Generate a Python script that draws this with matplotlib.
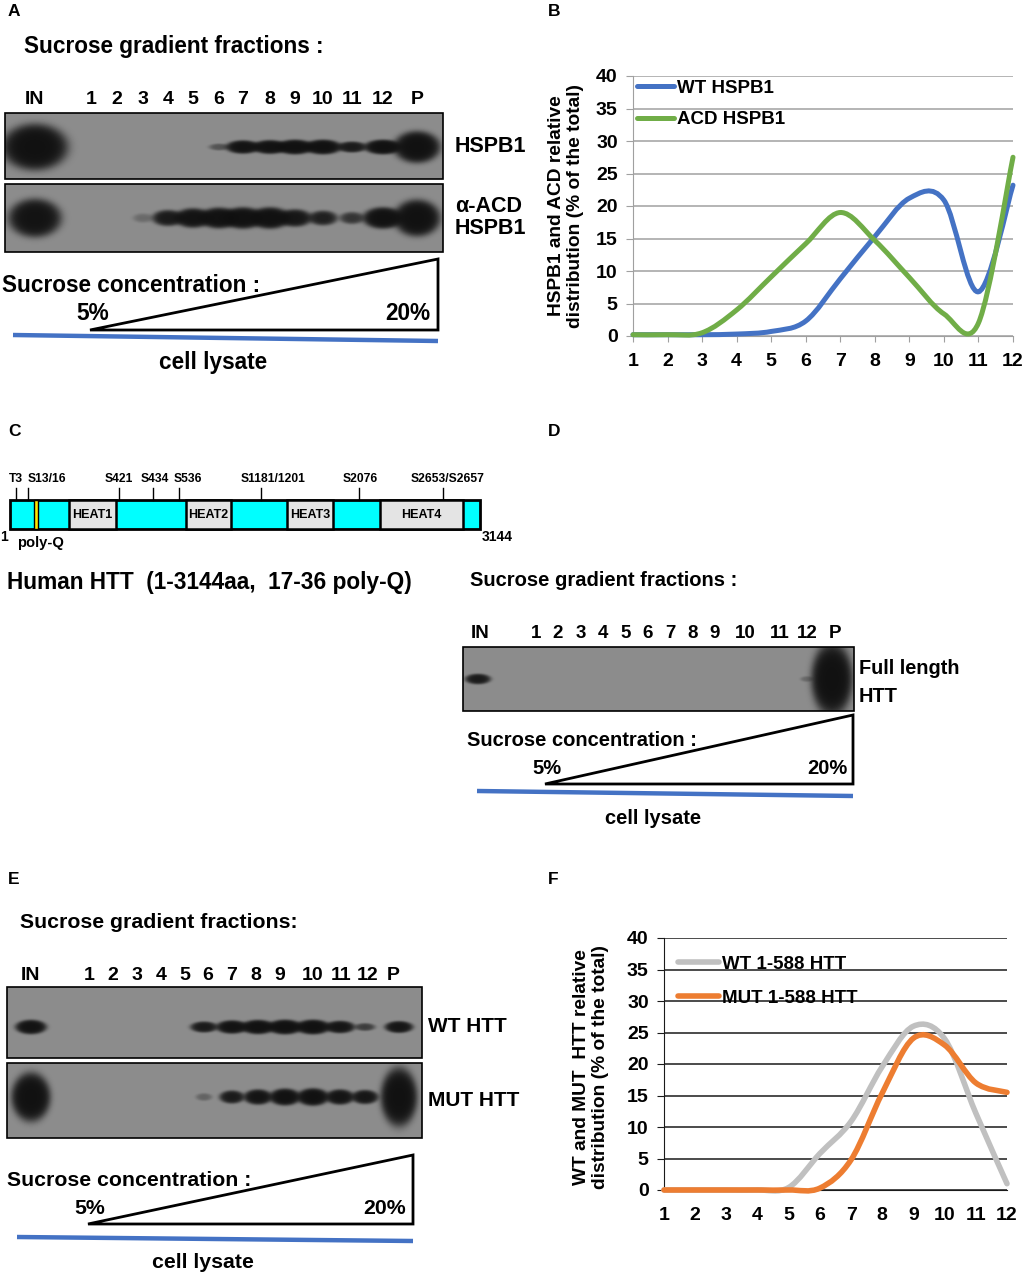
import numpy as np
import matplotlib
matplotlib.use('Agg')
import matplotlib.pyplot as plt
from matplotlib.path import Path
from matplotlib.patches import PathPatch, Rectangle, Polygon
from matplotlib.lines import Line2D

plt.rcParams['font.family'] = ['Liberation Sans', 'DejaVu Sans']
plt.rcParams['font.weight'] = 'bold'

W, H = 1031, 1276

# ---- data ----
lanes = ['IN', '1', '2', '3', '4', '5', '6', '7', '8', '9', '10', '11', '12', 'P']
fractions = list(range(1, 13))

# panel B: relative distribution (% of total)
wt_hspb1 = [0.2, 0.2, 0.2, 0.3, 0.7, 2.3, 8.8, 15.3, 21.2, 20.9, 6.8, 23.2]
acd_hspb1 = [0.2, 0.2, 0.5, 4.0, 9.1, 14.2, 19.0, 14.7, 9.0, 3.4, 2.0, 27.5]

# panel F
wt_htt = [0, 0, 0, 0, 0.4, 5.8, 10.9, 19.6, 26.0, 24.0, 12.2, 1.0]
mut_htt = [0, 0, 0, 0, 0, 0.3, 4.8, 15.4, 24.1, 23.0, 17.0, 15.5]

# blot band intensities (IN, 1..12, P), 0 = no band
blot_hspb1 = [1.0, 0, 0, 0, 0, 0, 0.15, 0.85, 0.9, 1.0, 1.0, 0.6, 1.0, 1.0]
blot_acd = [0.85, 0, 0, 0.08, 0.6, 0.85, 0.95, 1.0, 1.0, 0.7, 0.5, 0.3, 1.0, 1.0]
blot_full_htt = [0.6, 0, 0, 0, 0, 0, 0, 0, 0, 0, 0, 0, 0.08, 1.0]
blot_wt_htt = [0.85, 0, 0, 0, 0, 0, 0.6, 0.85, 0.95, 1.0, 1.0, 0.75, 0.25, 0.75]
blot_mut_htt = [1.0, 0, 0, 0, 0, 0, 0.1, 0.6, 0.8, 0.95, 1.0, 0.8, 0.7, 1.0]

# HTT domain map
heat_domains = ['HEAT1', 'HEAT2', 'HEAT3', 'HEAT4']
phospho_sites = ['T3', 'S13/16', 'S421', 'S434', 'S536', 'S1181/1201', 'S2076', 'S2653/S2657']


fig = plt.figure(figsize=(W / 100, H / 100), dpi=100)
ax = fig.add_axes([0, 0, 1, 1])
ax.set_xlim(0, W)
ax.set_ylim(H, 0)
ax.axis('off')


def txt(x, y, s, fs, ha='left', **kw):
    ax.text(x, y, s, fontsize=fs, ha=ha, va='center', fontweight='bold', **kw)


def blot(box, lane_x, band_y, vals, lw_, lh_, in_size, p_size, bg=0.55):
    x0, x1, y0, y1 = box
    X, Y = np.meshgrid(np.arange(x0, x1) + 0.5, np.arange(y0, y1) + 0.5)
    dens = np.zeros_like(X)
    for i, (lx, v) in enumerate(zip(lane_x, vals)):
        if v <= 0:
            continue
        if i == 0:
            wx, wy = in_size
        elif i == len(vals) - 1:
            wx, wy = p_size
        else:
            wx, wy = lw_ * (0.6 + 0.5 * v), lh_ * (0.5 + 0.6 * v)
        r2 = ((X - lx) / wx) ** 2 + ((Y - band_y) / wy) ** 2
        dens += v * np.exp(-r2 ** 1.8)
    dark = 1 - np.exp(-4.0 * dens)
    img = bg - (bg - 0.06) * dark
    ax.imshow(img, cmap='gray', vmin=0, vmax=1, extent=(x0, x1, y1, y0),
              interpolation='bilinear', zorder=1)
    ax.add_patch(Rectangle((x0, y0), x1 - x0, y1 - y0, fill=False, ec='black', lw=1.2, zorder=2))


def gradient(tip, xr, ytop, ybot, conc_xy, p5, p20, blue, lys, fs):
    ax.add_patch(Polygon([tip, (xr, ytop), (xr, ybot)], closed=True, fc='white', ec='black', lw=2, zorder=3))
    txt(conc_xy[0], conc_xy[1], 'Sucrose concentration :', fs, zorder=4)
    txt(p5[0], p5[1], '5%', fs, ha='center', zorder=4)
    txt(p20[0], p20[1], '20%', fs, ha='center', zorder=4)
    ax.plot(blue[0], blue[1], color='#4472C4', lw=3.2, solid_capstyle='butt')
    txt(lys[0], lys[1], 'cell lysate', fs, ha='center')


# ---- panel letters ----
for s, (x, y) in zip('ABCDEF', [(8, 12), (548, 12), (8, 432), (548, 432), (8, 880), (548, 880)]):
    txt(x, y, s, 12.5)

# ---- panel A ----
txt(24, 47, 'Sucrose gradient fractions :', 16.3)
lx_a = [35, 91, 117, 143, 168, 193, 219, 243, 270, 295, 323, 352, 383, 417]
for x, s in zip(lx_a, lanes):
    txt(x, 100, s, 14, ha='center')
blot((5, 443, 113, 179), lx_a, 147, blot_hspb1, 14, 5.5, (27, 19), (19, 13))
blot((5, 443, 184, 252), lx_a, 218, blot_acd, 15, 8, (22, 16), (19, 15))
txt(455, 147, 'HSPB1', 15.5)
txt(455, 206, 'α-ACD', 15.5)
txt(455, 229, 'HSPB1', 15.5)
gradient((90, 330), 438, 259, 330, (2, 285), (93, 313), (408, 313),
         ([13, 438], [335, 341]), (213, 362), 16.3)

# ---- panel C ----
bar_x0, bar_x1, bar_y0, bar_y1 = 10, 480, 500, 529
ax.add_patch(Rectangle((bar_x0, bar_y0), bar_x1 - bar_x0, bar_y1 - bar_y0, fc='#00FFFF', ec='black', lw=2, zorder=2))
ax.add_patch(Rectangle((34, bar_y0), 4, bar_y1 - bar_y0, fc='#FFE800', ec='black', lw=1, zorder=3))
for name, (a, b) in zip(heat_domains, [(69, 116), (186, 231), (287, 333), (380, 463)]):
    ax.add_patch(Rectangle((a, bar_y0), b - a, bar_y1 - bar_y0, fc='#E4E4E4', ec='black', lw=1.8, zorder=3))
    txt((a + b) / 2, 515, name, 9, ha='center', zorder=4)
tick_x = [16, 28, 119, 153, 179, 261, 359, 443]
lab_x = [16, 47, 119, 155, 188, 273, 360, 448]
for tx, lx, s in zip(tick_x, lab_x, phospho_sites):
    ax.plot([tx, tx], [488, bar_y0], color='black', lw=1)
    txt(lx, 479, s, 8.7, ha='center')
txt(0, 537, '1', 10)
txt(482, 537, '3144', 10)
txt(17, 543, 'poly-Q', 10.6)
txt(7, 582, 'Human HTT  (1-3144aa,  17-36 poly-Q)', 16.3)

# ---- panel D ----
txt(470, 580, 'Sucrose gradient fractions :', 14.5)
lx_d = [480, 536, 558, 581, 603, 626, 648, 670, 693, 715, 745, 780, 807, 835]
for x, s in zip(lx_d, lanes):
    txt(x, 633, s, 13.5, ha='center')
blot((463, 854, 647, 711), [478] + lx_d[1:-1] + [832], 679, blot_full_htt, 10, 5, (11, 4.5), (17, 30))
txt(859, 668, 'Full length', 14.3)
txt(859, 697, 'HTT', 14.3)
gradient((545, 784), 853, 715, 784, (467, 740), (547, 768), (827, 768),
         ([477, 853], [791, 796]), (653, 818), 14.5)

# ---- panel E ----
txt(20, 923, 'Sucrose gradient fractions:', 15.3)
lx_e = [31, 89, 113, 137, 161, 185, 208, 232, 256, 280, 313, 341, 368, 393]
for x, s in zip(lx_e, lanes):
    txt(x, 975, s, 14, ha='center')
bx_e = lx_e[:6] + [204, 232, 258, 285, 313, 340, 365, 399]
blot((7, 422, 987, 1058), bx_e, 1027, blot_wt_htt, 13, 5.5, (13, 6), (12, 5))
blot((7, 422, 1063, 1138), bx_e, 1097, blot_mut_htt, 12, 6.5, (16, 20), (15, 24))
txt(428, 1027, 'WT HTT', 15)
txt(428, 1100, 'MUT HTT', 15)
gradient((88, 1224), 413, 1155, 1224, (7, 1180), (90, 1208), (385, 1208),
         ([17, 413], [1237, 1241]), (203, 1262), 15.3)


# ---- line charts ----
def smooth_path(xs, ys):
    p = np.column_stack([xs, ys]).astype(float)
    ext = np.vstack([p[0], p, p[-1]])
    verts, codes = [p[0]], [Path.MOVETO]
    for i in range(len(p) - 1):
        a, b, c, d = ext[i], ext[i + 1], ext[i + 2], ext[i + 3]
        verts += [b + (c - a) / 6, c - (d - b) / 6, c]
        codes += [Path.CURVE4] * 3
    return Path(verts, codes)


def line_chart(rect, series, colors, labels, grid_color, spine_color, lw, leg_anchor, leg_space, leg_hl):
    a = fig.add_axes(rect)
    a.set_facecolor('none')
    a.set_xlim(1, 12)
    a.set_ylim(0, 40)
    a.set_yticks(range(0, 41, 5))
    a.set_xticks(fractions)
    a.grid(axis='y', color=grid_color, lw=1.1)
    a.set_axisbelow(True)
    for sp in ['top', 'right']:
        a.spines[sp].set_visible(False)
    a.spines['left'].set_color(spine_color)
    a.spines['bottom'].set_color(grid_color)
    a.tick_params(axis='y', length=5, color=grid_color, labelsize=14, pad=6)
    a.tick_params(axis='x', length=4, color=grid_color, labelsize=14, pad=8)
    for t in a.get_xticklabels() + a.get_yticklabels():
        t.set_fontweight('bold')
    handles = []
    for ys, c, lab in zip(series, colors, labels):
        a.add_patch(PathPatch(smooth_path(fractions, ys), fill=False, ec=c, lw=lw,
                              capstyle='round', clip_on=False, zorder=3))
        handles.append(Line2D([], [], color=c, lw=lw, solid_capstyle='round', label=lab))
    a.legend(handles=handles, loc='upper left', bbox_to_anchor=leg_anchor, frameon=False,
             prop={'size': 13.5, 'weight': 'bold'}, handlelength=leg_hl, handletextpad=0.15,
             labelspacing=leg_space, borderpad=0, borderaxespad=0)
    return a


axB = line_chart([633 / W, 1 - 336 / H, 380 / W, 260 / H], [wt_hspb1, acd_hspb1],
                 ['#4472C4', '#70AD47'], ['WT HSPB1', 'ACD HSPB1'], '#A0A0A0', '#A0A0A0',
                 3.6, (0.01, 0.985), 0.75, 2.0)
txt(566, 206, 'HSPB1 and ACD relative\ndistribution (% of the total)', 13.8, ha='center',
    rotation=90, multialignment='center', linespacing=1.1)

axF = line_chart([664 / W, 1 - 1190 / H, 343 / W, 252 / H], [wt_htt, mut_htt],
                 ['#C0C0C0', '#ED7D31'], ['WT 1-588 HTT', 'MUT 1-588 HTT'], '#1A1A1A', '#1A1A1A',
                 4.0, (0.04, 0.93), 0.9, 2.2)
axF.tick_params(axis='x', length=0, pad=12)
txt(591, 1067, 'WT and MUT  HTT relative\ndistribution (% of the total)', 13.8, ha='center',
    rotation=90, multialignment='center', linespacing=1.1)

fig.savefig('out.png', dpi=100)
